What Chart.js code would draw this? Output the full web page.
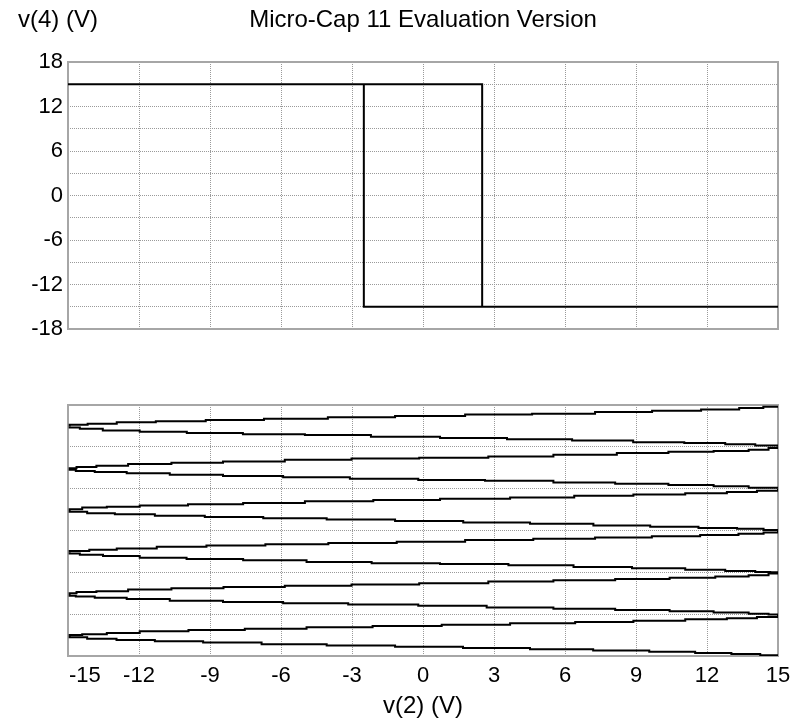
<!DOCTYPE html>
<html>
<head>
<meta charset="utf-8">
<script src="https://cdn.jsdelivr.net/npm/chart.js@4.4.0/dist/chart.umd.min.js"></script>
<style>
html,body{margin:0;padding:0;background:#fff;}
#wrap{position:relative;width:799px;height:723px;overflow:hidden;}
canvas{position:absolute;left:0;top:0;}
</style>
</head>
<body>
<div id="wrap">
<canvas id="c1" width="799" height="723"></canvas>
<canvas id="c2" width="799" height="723"></canvas>
</div>
<script>
// ---------- text ----------
const titleText = 'Micro-Cap 11 Evaluation Version';
const topYLabel = 'v(4) (V)';
const xAxisLabel = 'v(2) (V)';

// ---------- tick labels ----------
const xTickValues = [-15, -12, -9, -6, -3, 0, 3, 6, 9, 12, 15];
const xTickLabels = ['-15', '-12', '-9', '-6', '-3', '0', '3', '6', '9', '12', '15'];
const yTickLabels = ['18', '12', '6', '0', '-6', '-12', '-18'];

// ---------- top plot: v(4) vs v(2) (hysteresis loop) ----------
const topX = [-15, 2.5, 2.5, 15, -2.5, -2.5, -15];
const topY = [15, 15, -15, -15, -15, 15, 15];

// ---------- bottom plot: staircase sweeps vs v(2) ----------
const sweepNames = ['sweep 1a', 'sweep 1b', 'sweep 2a', 'sweep 2b', 'sweep 3a', 'sweep 3b',
                    'sweep 4a', 'sweep 4b', 'sweep 5a', 'sweep 5b', 'sweep 6a', 'sweep 6b'];
const sweepX = [
  [-14.93, -14.93, -14.17, -12.94, -11.29, -9.18, -6.72, -4.02, -1.18, 1.78, 4.61, 7.27, 9.68, 11.75, 13.36, 14.38, 15],
  [-14.93, -14.93, -14.50, -13.53, -11.97, -9.98, -7.61, -4.99, -2.20, 0.72, 3.55, 6.30, 8.88, 11.04, 12.77, 14.04, 15],
  [-14.93, -14.93, -14.64, -13.80, -12.46, -10.63, -8.45, -5.84, -3.02, -0.16, 2.76, 5.51, 8.19, 10.37, 12.28, 13.76, 14.60, 15],
  [-14.93, -14.93, -14.67, -13.87, -12.52, -10.70, -8.45, -5.91, -3.09, -0.20, 2.62, 5.51, 8.12, 10.37, 12.28, 13.76, 15],
  [-14.93, -14.93, -14.40, -13.36, -11.97, -9.93, -7.60, -4.99, -2.10, 0.72, 3.68, 6.39, 8.89, 11.08, 12.84, 14.11, 15],
  [-14.93, -14.93, -14.19, -13.02, -11.33, -9.22, -6.75, -4.07, -1.18, 1.70, 4.52, 7.20, 9.60, 11.64, 13.27, 14.39, 15],
  [-14.93, -14.93, -14.10, -12.94, -11.25, -9.15, -6.66, -4.00, -1.11, 1.78, 4.66, 7.27, 9.67, 11.71, 13.33, 14.39, 15],
  [-14.93, -14.93, -14.50, -13.52, -11.97, -9.99, -7.60, -4.92, -2.17, 0.72, 3.61, 6.36, 8.83, 11.08, 12.77, 14.04, 14.67, 15],
  [-14.93, -14.93, -14.64, -13.80, -12.46, -10.63, -8.43, -5.84, -3.02, -0.16, 2.76, 5.51, 8.12, 10.42, 12.35, 13.76, 14.60, 15],
  [-14.93, -14.93, -14.67, -13.87, -12.52, -10.70, -8.45, -5.91, -3.16, -0.20, 2.69, 5.51, 8.12, 10.42, 12.28, 13.76, 14.60, 15],
  [-14.93, -14.93, -14.40, -13.36, -11.97, -9.91, -7.53, -4.92, -2.13, 0.79, 3.68, 6.43, 8.89, 11.08, 12.84, 14.11, 15],
  [-14.93, -14.93, -14.19, -12.95, -11.33, -9.29, -6.82, -4.07, -1.18, 1.69, 4.52, 7.19, 9.56, 11.50, 13.03, 14.25, 15]
];
const sweepY = [
  [5.49, 5.53, 5.55, 5.59, 5.61, 5.64, 5.67, 5.71, 5.74, 5.77, 5.79, 5.83, 5.86, 5.89, 5.93, 5.96, 5.96],
  [5.49, 5.46, 5.43, 5.39, 5.36, 5.33, 5.30, 5.28, 5.24, 5.21, 5.18, 5.15, 5.11, 5.09, 5.06, 5.03, 5.00],
  [4.47, 4.49, 4.52, 4.55, 4.59, 4.62, 4.65, 4.69, 4.72, 4.74, 4.77, 4.81, 4.85, 4.88, 4.90, 4.93, 4.97, 5.00],
  [4.47, 4.45, 4.42, 4.40, 4.37, 4.33, 4.30, 4.27, 4.24, 4.21, 4.19, 4.15, 4.12, 4.09, 4.06, 4.02, 4.00],
  [3.49, 3.51, 3.55, 3.57, 3.60, 3.63, 3.66, 3.70, 3.73, 3.76, 3.79, 3.83, 3.86, 3.89, 3.92, 3.95, 4.00],
  [3.49, 3.45, 3.41, 3.39, 3.35, 3.32, 3.29, 3.26, 3.23, 3.19, 3.16, 3.12, 3.09, 3.06, 3.04, 3.01, 3.00],
  [2.48, 2.51, 2.54, 2.57, 2.61, 2.64, 2.67, 2.70, 2.73, 2.77, 2.80, 2.83, 2.86, 2.89, 2.92, 2.95, 3.00],
  [2.48, 2.45, 2.42, 2.39, 2.35, 2.32, 2.29, 2.25, 2.22, 2.20, 2.17, 2.13, 2.10, 2.06, 2.03, 2.01, 2.00, 2.00],
  [1.48, 1.50, 1.53, 1.55, 1.59, 1.62, 1.65, 1.68, 1.71, 1.74, 1.78, 1.81, 1.84, 1.87, 1.90, 1.93, 1.97, 2.00],
  [1.48, 1.44, 1.42, 1.39, 1.36, 1.32, 1.29, 1.26, 1.23, 1.20, 1.16, 1.13, 1.10, 1.07, 1.04, 1.01, 0.99, 0.98],
  [0.48, 0.50, 0.52, 0.55, 0.59, 0.62, 0.65, 0.69, 0.72, 0.75, 0.78, 0.81, 0.84, 0.88, 0.90, 0.93, 0.98],
  [0.48, 0.45, 0.41, 0.38, 0.35, 0.32, 0.28, 0.25, 0.22, 0.19, 0.16, 0.13, 0.10, 0.07, 0.05, 0.02, 0.00]
];

// ---------- styling ----------
const FONT = '"Liberation Sans", Arial, Helvetica, sans-serif';
Chart.defaults.font.family = FONT;
Chart.defaults.color = '#000';

const GRID_COLOR = '#9a9a9a';
const FRAME_COLOR = '#a6a6a6';

const framePlugin = {
  id: 'frame',
  beforeDatasetsDraw(chart) {
    const a = chart.chartArea, ctx = chart.ctx;
    ctx.save();
    ctx.strokeStyle = FRAME_COLOR;
    ctx.lineWidth = 2;
    ctx.strokeRect(a.left, a.top, a.right - a.left, a.bottom - a.top);
    ctx.restore();
  }
};

const topTextPlugin = {
  id: 'topText',
  afterDraw(chart) {
    const a = chart.chartArea, ctx = chart.ctx;
    ctx.save();
    ctx.fillStyle = '#000';
    ctx.font = '24px ' + FONT;
    ctx.textBaseline = 'alphabetic';
    ctx.textAlign = 'center';
    ctx.fillText(titleText, (a.left + a.right) / 2, 27);
    ctx.textAlign = 'left';
    ctx.fillText(topYLabel, 18, 27);
    ctx.restore();
  }
};

const bottomTextPlugin = {
  id: 'bottomText',
  afterDraw(chart) {
    const a = chart.chartArea, ctx = chart.ctx, sx = chart.scales.x;
    ctx.save();
    ctx.fillStyle = '#000';
    ctx.textBaseline = 'alphabetic';
    ctx.font = '22px ' + FONT;
    xTickValues.forEach((v, i) => {
      const px = sx.getPixelForValue(v);
      if (i === 0) { ctx.textAlign = 'left'; ctx.fillText(xTickLabels[i], px + 1, 682); }
      else { ctx.textAlign = 'center'; ctx.fillText(xTickLabels[i], px, 682); }
    });
    ctx.font = '24px ' + FONT;
    ctx.textAlign = 'center';
    ctx.fillText(xAxisLabel, (a.left + a.right) / 2, 713);
    ctx.restore();
  }
};

function gridOpts() {
  return { color: GRID_COLOR, lineWidth: 1, drawTicks: false };
}
function borderOpts() {
  return { display: false, dash: [1, 1] };
}

// ---------- top chart ----------
new Chart(document.getElementById('c1'), {
  type: 'scatter',
  data: {
    datasets: [{
      label: 'v(4)',
      data: topX.map((x, i) => ({ x: x, y: topY[i] })),
      showLine: true,
      borderColor: '#000',
      borderWidth: 2,
      pointRadius: 0,
      pointHoverRadius: 0,
      tension: 0,
      fill: false
    }]
  },
  options: {
    responsive: false,
    animation: false,
    devicePixelRatio: 1,
    events: [],
    layout: { padding: { left: 0, top: 62, right: 21, bottom: 394 } },
    plugins: { legend: { display: false }, tooltip: { enabled: false }, title: { display: false } },
    scales: {
      x: {
        type: 'linear', min: -15, max: 15,
        ticks: { stepSize: 3, display: false, autoSkip: false },
        grid: gridOpts(), border: borderOpts(),
        afterFit: s => { s.height = 0; }
      },
      y: {
        type: 'linear', min: -18, max: 18,
        ticks: {
          stepSize: 3, autoSkip: false, padding: 5, color: '#000',
          font: { size: 22, family: FONT },
          callback: v => (yTickLabels.indexOf(String(v)) >= 0 ? String(v) : '')
        },
        grid: gridOpts(), border: borderOpts(),
        afterFit: s => { s.width = 68; }
      }
    }
  },
  plugins: [framePlugin, topTextPlugin]
});

// ---------- bottom chart ----------
new Chart(document.getElementById('c2'), {
  type: 'scatter',
  data: {
    datasets: sweepX.map((xs, i) => ({
      label: sweepNames[i],
      data: xs.map((x, j) => ({ x: x, y: sweepY[i][j] })),
      showLine: true,
      stepped: 'before',
      borderColor: '#000',
      borderWidth: 2,
      pointRadius: 0,
      pointHoverRadius: 0,
      fill: false
    }))
  },
  options: {
    responsive: false,
    animation: false,
    devicePixelRatio: 1,
    events: [],
    layout: { padding: { left: 0, top: 405, right: 21, bottom: 67 } },
    plugins: { legend: { display: false }, tooltip: { enabled: false }, title: { display: false } },
    scales: {
      x: {
        type: 'linear', min: -15, max: 15,
        ticks: { stepSize: 3, display: false, autoSkip: false },
        grid: gridOpts(), border: borderOpts(),
        afterFit: s => { s.height = 0; }
      },
      y: {
        type: 'linear', min: 0, max: 6,
        ticks: { stepSize: 1, display: false, autoSkip: false },
        grid: gridOpts(), border: borderOpts(),
        afterFit: s => { s.width = 68; }
      }
    }
  },
  plugins: [framePlugin, bottomTextPlugin]
});
</script>
</body>
</html>
